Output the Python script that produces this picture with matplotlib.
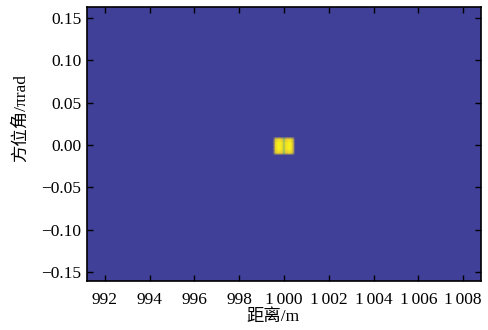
import numpy as np
import matplotlib
matplotlib.use("Agg")
import matplotlib.pyplot as plt
from matplotlib.colors import LinearSegmentedColormap

plt.rcParams['font.family'] = ['Liberation Serif', 'Noto Sans CJK SC']
plt.rcParams['axes.unicode_minus'] = True

# 距离向剖面 (m) 与幅度, 读自图中
range_m = [991.2, 999.5, 999.62, 999.75, 999.92, 1000.0, 1000.08,
           1000.25, 1000.38, 1000.5, 1008.8]
range_amp = [0, 0, 0.92, 1.0, 0.95, 0.78, 0.95, 1.0, 0.92, 0, 0]

# 方位向剖面 (πrad) 与幅度
az_rad = [-0.161, -0.0118, -0.0095, -0.005, -0.001, 0.003, 0.0075, 0.0098, 0.163]
az_amp = [0, 0, 0.92, 1.0, 1.0, 1.0, 0.92, 0, 0]

x_ticks = [992, 994, 996, 998, 1000, 1002, 1004, 1006, 1008]
x_labels = ['992', '994', '996', '998', '1\u2006000', '1\u2006002', '1\u2006004', '1\u2006006', '1\u2006008']
y_ticks = [-0.15, -0.10, -0.05, 0.00, 0.05, 0.10, 0.15]
y_labels = ['\u22120.15', '\u22120.10', '\u22120.05', '0.00', '0.05', '0.10', '0.15']

# parula 近似
parula = LinearSegmentedColormap.from_list('parula', [
    (0.00, (0.25, 0.25, 0.60)),
    (0.15, (0.02, 0.38, 0.88)),
    (0.35, (0.08, 0.55, 0.82)),
    (0.55, (0.10, 0.72, 0.66)),
    (0.75, (0.55, 0.76, 0.35)),
    (0.88, (0.90, 0.75, 0.22)),
    (1.00, (0.98, 0.96, 0.10)),
])

img = np.outer(az_amp, range_amp)

fig = plt.figure(figsize=(4.88, 3.30), dpi=100)
ax = fig.add_axes([0.178, 0.148, 0.808, 0.831])
ax.pcolormesh(range_m, az_rad, img, shading='gouraud', cmap=parula, vmin=0, vmax=1)

ax.set_xlim(991.2, 1008.8)
ax.set_ylim(-0.161, 0.163)
ax.set_xticks(x_ticks)
ax.set_xticklabels(x_labels)
ax.set_yticks(y_ticks)
ax.set_yticklabels(y_labels)
ax.tick_params(direction='in', top=True, right=True, length=4, width=1, labelsize=12.5)
ax.tick_params(axis='x', pad=8)
ax.tick_params(axis='y', pad=4)
for s in ax.spines.values():
    s.set_linewidth(1.2)

ax.set_xlabel('距离/m', fontsize=12.5)
ax.set_ylabel('方位角/πrad', fontsize=12.5)
ax.xaxis.set_label_coords(0.472, -0.1)
ax.yaxis.set_label_coords(-0.147, 0.595)

fig.savefig('out.png', dpi=100)
